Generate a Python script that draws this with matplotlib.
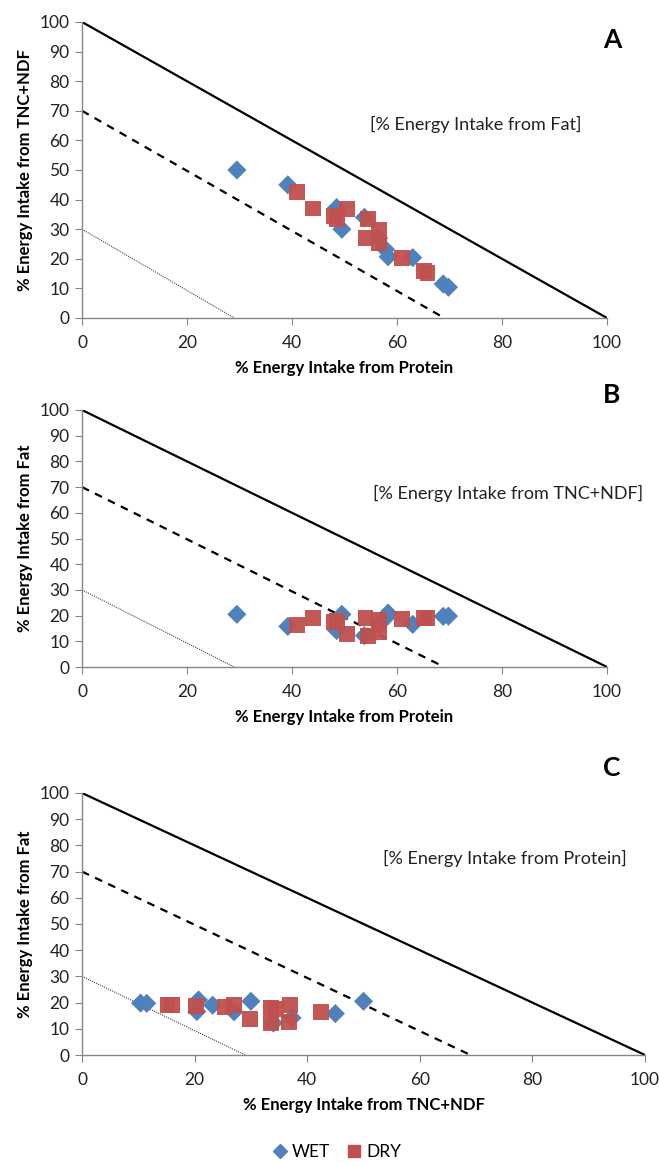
import matplotlib
matplotlib.use("Agg")
import matplotlib.pyplot as plt
from matplotlib.lines import Line2D

# ---- data (% energy intake) ----
wet_protein = [29.5, 39.2, 48.5, 49.5, 53.8, 56.5, 57.8, 58.3, 63.0, 68.8, 69.8]
wet_tnc     = [50.0, 45.0, 37.3, 30.0, 34.0, 27.0, 23.2, 20.7, 20.4, 11.5, 10.4]
wet_fat     = [20.5, 15.8, 14.2, 20.5, 12.2, 16.5, 19.0, 21.0, 16.6, 19.7, 19.8]

dry_protein = [41.0, 44.0, 48.0, 48.5, 50.5, 54.5, 56.5, 54.0, 56.5, 61.0, 65.2, 65.8]
dry_tnc     = [42.5, 37.0, 34.5, 33.5, 36.8, 33.5, 29.8, 27.0, 25.3, 20.2, 16.0, 15.2]
dry_fat     = [16.5, 19.0, 17.5, 18.0, 12.7, 12.0, 13.7, 19.0, 18.2, 18.8, 19.0, 19.2]

# reference lines (x+y = const)
solid_x, solid_y = [0, 100], [100, 0]
dash_x, dash_y = [0, 69], [70, 0]
dot_x, dot_y = [0, 29], [30, 0]

x_ticks = [0, 20, 40, 60, 80, 100]
y_ticks = [0, 10, 20, 30, 40, 50, 60, 70, 80, 90, 100]

BLUE = "#4F81BD"
RED = "#C0504D"
GRAY = "#868686"
FONT = "Lato"

plt.rcParams['font.family'] = [FONT, 'DejaVu Sans']

fig = plt.figure(figsize=(6.6, 11.66), dpi=100)
W, H = 660.0, 1166.0

def box(l, r, t, b):
    return [l / W, 1 - b / H, (r - l) / W, (b - t) / H]

panels = [
    dict(rect=box(82, 607, 22, 318), x=(wet_protein, dry_protein), y=(wet_tnc, dry_tnc),
         xl="% Energy Intake from Protein", yl="% Energy Intake from TNC+NDF",
         note="[% Energy Intake from Fat]", note_xy=(54.8, 65.5), letter="A", letter_y=40),
    dict(rect=box(82, 607, 410, 667), x=(wet_protein, dry_protein), y=(wet_fat, dry_fat),
         xl="% Energy Intake from Protein", yl="% Energy Intake from Fat",
         note="[% Energy Intake from TNC+NDF]", note_xy=(55.5, 67.5), letter="B", letter_y=395),
    dict(rect=box(82, 645, 793, 1055), x=(wet_tnc, dry_tnc), y=(wet_fat, dry_fat),
         xl="% Energy Intake from TNC+NDF", yl="% Energy Intake from Fat",
         note="[% Energy Intake from Protein]", note_xy=(53.5, 75), letter="C", letter_y=768),
]

for p in panels:
    ax = fig.add_axes(p["rect"])
    ax.set_xlim(0, 100)
    ax.set_ylim(0, 100)
    ax.plot(solid_x, solid_y, color="black", lw=1.6, zorder=2)
    ax.plot(dash_x, dash_y, color="black", lw=1.6, dashes=(3.5, 3), zorder=2)
    ax.plot(dot_x, dot_y, color="#444444", lw=0.8, linestyle=(0, (1, 1)), zorder=2)
    ax.scatter(p["x"][0], p["y"][0], marker="D", s=95, color=BLUE, edgecolors="none", zorder=3)
    ax.scatter(p["x"][1], p["y"][1], marker="s", s=130, color=RED, edgecolors="none", zorder=4, alpha=0.95)
    ax.set_xticks(x_ticks)
    ax.set_yticks(y_ticks)
    for s in ("top", "right"):
        ax.spines[s].set_visible(False)
    for s in ("left", "bottom"):
        ax.spines[s].set_color(GRAY)
        ax.spines[s].set_linewidth(1.0)
    ax.tick_params(axis="both", direction="out", length=5, color=GRAY, labelsize=12.5,
                   labelcolor="#222222", pad=4)
    ax.tick_params(axis="x", pad=7)
    ax.set_xlabel(p["xl"], fontsize=12, fontweight="bold", labelpad=7)
    ax.set_ylabel(p["yl"], fontsize=12, fontweight="bold", labelpad=5)
    ax.text(p["note_xy"][0], p["note_xy"][1], p["note"], fontsize=13, color="#222222",
            ha="left", va="center")
    fig.text(612 / W, 1 - p["letter_y"] / H, p["letter"], fontsize=19, fontweight="bold",
             ha="center", va="center")

handles = [
    Line2D([], [], marker="D", linestyle="none", color=BLUE, markersize=7, label="WET"),
    Line2D([], [], marker="s", linestyle="none", color=RED, markersize=9, label="DRY"),
]
fig.legend(handles=handles, loc="center", bbox_to_anchor=(337 / W, 1 - 1152 / H), ncol=2,
           frameon=False, fontsize=12.5, handlelength=0.8, handletextpad=0.3,
           columnspacing=1.0)

fig.savefig("out.png", dpi=100)
